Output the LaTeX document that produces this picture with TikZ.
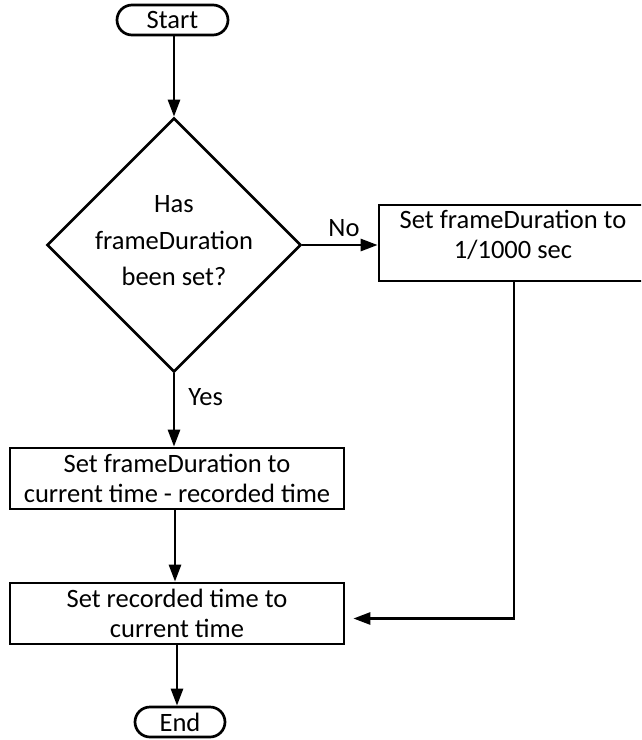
\documentclass[tikz,border=0pt]{standalone}
\usepackage{fontspec}
\setmainfont{Carlito}
\usetikzlibrary{shapes.geometric,arrows.meta}
\begin{document}
\begin{tikzpicture}[x=1pt,y=-1pt,
  every node/.style={font=\fontsize{26.5}{30.5}\selectfont},
  base/.style={draw=black, line width=2.7pt, inner sep=0pt, align=center},
  terminal/.style={base, rectangle, rounded corners=15pt},
  process/.style={base, rectangle},
  decision/.style={base, diamond, minimum width=254pt, minimum height=254pt},
  caption/.style={inner sep=0pt, align=center},
  flow/.style={line width=2.7pt, -{Triangle[length=17pt,width=12pt]}},
  lbl/.style={inner sep=0pt}]
  \useasboundingbox (0,0) rectangle (641,740);
  \begin{scope}
  \clip (0,0) rectangle (641,740);

  % shapes
  \node[terminal, minimum width=111pt, minimum height=30pt] (start) at (172.5,20) {Start};
  \node[decision] (dec) at (174,245) {};
  \node[caption, font=\fontsize{26.5}{36.5}\selectfont] (dectext) at (174,241)
    {Has\\frameDuration\\been set?};
  \node[process, minimum width=270pt, minimum height=76pt] (fix) at (514,243) {};
  \node[caption] (fixtext) at (513,235) {Set frameDuration to\\1/1000 sec};
  \node[process, minimum width=334pt, minimum height=61pt] (calc) at (177,478.5)
    {Set frameDuration to\\current time - recorded time};
  \node[process, minimum width=334pt, minimum height=61pt] (rec) at (177,613.5)
    {Set recorded time to\\current time};
  \node[terminal, minimum width=90pt, minimum height=30pt] (fin) at (180,722) {End};

  % connectors
  \draw[flow] (start.south -| dec.north) -- (dec.north);
  \draw[flow] (dec.east) -- (dec.east -| fix.west)
    node[lbl, midway, above=7pt, xshift=4pt] {No};
  \draw[flow] (dec.south) -- (dec.south |- calc.north)
    node[lbl, pos=0.33, right=13pt] {Yes};
  \draw[flow] ([xshift=-2pt]calc.south) -- ([xshift=-2pt]rec.north);
  \draw[flow] (rec.south) -- (rec.south |- fin.north);
  \draw[flow] (fix.south) |- ([xshift=8pt,yshift=-5pt]rec.east);
  \end{scope}
\end{tikzpicture}
\end{document}
